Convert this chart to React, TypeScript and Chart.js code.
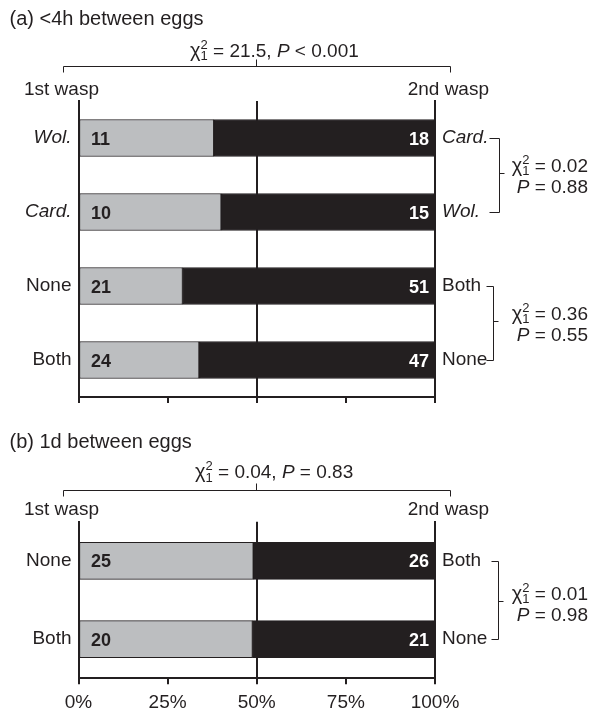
import React, { useEffect, useRef } from 'react';
import { Chart, registerables } from 'chart.js';

Chart.register(...registerables);

const FONT_FAMILY = '"Liberation Sans", Arial, Helvetica, sans-serif';
const INK = '#231f20';
const GREY = '#bcbec0';
const PAGE_W = 589;

// ---------------- data ----------------
const xTickValues = [0, 25, 50, 75, 100];
const waspLabels = ['1st wasp', '2nd wasp'];
const italicNames = ['Wol.', 'Card.'];

const panelATitle = '(a) <4h between eggs';
const panelAFirstLabels = ['Wol.', 'Card.', 'None', 'Both'];
const panelASecondLabels = ['Card.', 'Wol.', 'Both', 'None'];
const panelAFirstCounts = [11, 10, 21, 24];
const panelASecondCounts = [18, 15, 51, 47];
const panelAOverall = ['21.5', '<', '0.001'];
const panelAPairs = [[0, 1], [2, 3]];
const panelAPairChi = ['0.02', '0.36'];
const panelAPairP = ['0.88', '0.55'];

const panelBTitle = '(b) 1d between eggs';
const panelBFirstLabels = ['None', 'Both'];
const panelBSecondLabels = ['Both', 'None'];
const panelBFirstCounts = [25, 20];
const panelBSecondCounts = [26, 21];
const panelBOverall = ['0.04', '=', '0.83'];
const panelBPairs = [[0, 1]];
const panelBPairChi = ['0.01'];
const panelBPairP = ['0.98'];

// ---------------- layout ----------------
const geomA = {
  top: 0, height: 420, areaTop: 101, areaBottom: 397, areaLeft: 78.5, areaRight: 435,
  showTickLabels: false,
  titleY: 24.5, statX: 190, statY: 56.5,
  bracketY: 66.5, bracketX1: 63.5, bracketX2: 450.5, drop: 6, rise: 7,
  waspY: 94.5,
  pairX: [499.5, 493.5], pairHook: [10, 7], pairMidShift: -3,
};
const geomB = {
  top: 420, height: 293, areaTop: 101.7, areaBottom: 258.3, areaLeft: 78.5, areaRight: 435,
  showTickLabels: true,
  titleY: 28.3, statX: 195, statY: 58,
  bracketY: 70.5, bracketX1: 63.5, bracketX2: 450.5, drop: 6, rise: 7,
  waspY: 95,
  pairX: [498.5], pairHook: [7], pairMidShift: 0,
};

type Seg = { t: string; size: number; italic?: boolean; bold?: boolean; dy?: number; noAdvance?: boolean };

function fontStr(size: number, italic = false, bold = false) {
  return `${italic ? 'italic ' : ''}${bold ? 'bold ' : ''}${size}px ${FONT_FAMILY}`;
}

function drawRich(ctx: CanvasRenderingContext2D, segs: Seg[], x: number, y: number, align: 'left' | 'right') {
  const widths = segs.map((s) => {
    ctx.font = fontStr(s.size, s.italic, s.bold);
    return s.noAdvance ? 0 : ctx.measureText(s.t).width;
  });
  const total = widths.reduce((a, b) => a + b, 0);
  let cx = align === 'right' ? x - total : x;
  ctx.textAlign = 'left';
  segs.forEach((s, i) => {
    ctx.font = fontStr(s.size, s.italic, s.bold);
    ctx.fillText(s.t, cx, y + (s.dy || 0));
    cx += widths[i];
  });
}

function chiSegs(size: number): Seg[] {
  const small = Math.round(size * 0.66);
  return [
    { t: 'χ', size: size + 1 },
    { t: '2', size: small, dy: -size * 0.42, noAdvance: true },
    { t: '1', size: small, dy: size * 0.2 },
  ];
}

type Panel = {
  title: string;
  firstLabels: string[];
  secondLabels: string[];
  firstCounts: number[];
  secondCounts: number[];
  overall: string[];
  pairs: number[][];
  pairChi: string[];
  pairP: string[];
  geom: typeof geomA;
};

function makeChart(canvas: HTMLCanvasElement, p: Panel) {
  const g = p.geom;
  const firstPct = p.firstCounts.map((v, i) => (v / (v + p.secondCounts[i])) * 100);
  const secondPct = p.secondCounts.map((v, i) => (v / (v + p.firstCounts[i])) * 100);

  const labelFont = (labels: string[]) => (c: any) => ({
    family: FONT_FAMILY,
    size: 19,
    style: italicNames.includes(labels[c.index]) ? 'italic' : 'normal',
  });

  const barLabels = {
    id: 'barLabels',
    afterDatasetsDraw(chart: any) {
      const ctx: CanvasRenderingContext2D = chart.ctx;
      const m0 = chart.getDatasetMeta(0);
      const m1 = chart.getDatasetMeta(1);
      ctx.save();
      ctx.font = fontStr(18, false, true);
      ctx.textBaseline = 'alphabetic';
      m0.data.forEach((bar: any, i: number) => {
        ctx.fillStyle = INK;
        ctx.textAlign = 'left';
        ctx.fillText(String(p.firstCounts[i]), chart.chartArea.left + 12.5, bar.y + 6.5);
      });
      m1.data.forEach((bar: any, i: number) => {
        ctx.fillStyle = '#ffffff';
        ctx.textAlign = 'right';
        ctx.fillText(String(p.secondCounts[i]), bar.x - 6, bar.y + 6.5);
      });
      ctx.restore();
    },
  };

  const annotations = {
    id: 'annotations',
    afterDraw(chart: any) {
      const ctx: CanvasRenderingContext2D = chart.ctx;
      ctx.save();
      ctx.fillStyle = INK;
      ctx.strokeStyle = INK;
      ctx.lineWidth = 1;
      ctx.textBaseline = 'alphabetic';
      ctx.font = fontStr(20);
      ctx.textAlign = 'left';
      ctx.fillText(p.title, 9.5, g.titleY);

      const [chi, rel, pv] = p.overall;
      drawRich(ctx, [
        ...chiSegs(19),
        { t: ' = ' + chi + ', ', size: 19 },
        { t: 'P', size: 19, italic: true },
        { t: ' ' + rel + ' ' + pv, size: 19 },
      ], g.statX, g.statY, 'left');

      const cx = Math.round(chart.scales.x.getPixelForValue(50)) - 0.5;
      ctx.beginPath();
      ctx.moveTo(g.bracketX1, g.bracketY + g.drop);
      ctx.lineTo(g.bracketX1, g.bracketY);
      ctx.lineTo(g.bracketX2, g.bracketY);
      ctx.lineTo(g.bracketX2, g.bracketY + g.drop);
      ctx.moveTo(cx, g.bracketY);
      ctx.lineTo(cx, g.bracketY - g.rise);
      ctx.stroke();

      ctx.font = fontStr(19);
      ctx.textAlign = 'left';
      ctx.fillText(waspLabels[0], 24, g.waspY);
      ctx.textAlign = 'right';
      ctx.fillText(waspLabels[1], 489, g.waspY);

      const ys = chart.scales.y;
      p.pairs.forEach(([a, b], k) => {
        const y1 = Math.round(ys.getPixelForValue(a)) + 0.5;
        const y2 = Math.round(ys.getPixelForValue(b)) + 0.5;
        const bx = g.pairX[k];
        const hook = g.pairHook[k];
        const mid = Math.round((y1 + y2) / 2 + g.pairMidShift) + 0.5;
        ctx.beginPath();
        ctx.moveTo(bx - hook, y1);
        ctx.lineTo(bx, y1);
        ctx.lineTo(bx, y2);
        ctx.lineTo(bx - hook, y2);
        ctx.moveTo(bx, mid);
        ctx.lineTo(bx + 5, mid);
        ctx.stroke();
        drawRich(ctx, [...chiSegs(19), { t: ' = ' + p.pairChi[k], size: 19 }], 588, mid - 2, 'right');
        drawRich(ctx, [{ t: 'P', size: 19, italic: true }, { t: ' = ' + p.pairP[k], size: 19 }], 588, mid + 19, 'right');
      });
      ctx.restore();
    },
  };

  return new Chart(canvas, {
    type: 'bar',
    data: {
      labels: p.firstLabels,
      datasets: [
        {
          label: waspLabels[0],
          data: firstPct,
          backgroundColor: GREY,
          borderColor: INK,
          borderWidth: 1,
          borderSkipped: false,
          barThickness: 37,
        },
        {
          label: waspLabels[1],
          data: secondPct,
          backgroundColor: INK,
          borderColor: INK,
          borderWidth: 1,
          borderSkipped: false,
          barThickness: 37,
        },
      ],
    },
    options: {
      indexAxis: 'y',
      animation: false,
      responsive: false,
      maintainAspectRatio: false,
      layout: { padding: { top: g.areaTop, left: 0, right: 0, bottom: 0 } },
      plugins: { legend: { display: false }, tooltip: { enabled: false } },
      scales: {
        x: {
          type: 'linear',
          stacked: true,
          min: 0,
          max: 100,
          position: 'bottom',
          afterBuildTicks: (s: any) => {
            s.ticks = xTickValues.map((v) => ({ value: v }));
          },
          ticks: {
            display: g.showTickLabels,
            callback: (v: any) => v + '%',
            font: { family: FONT_FAMILY, size: 19 },
            color: INK,
            padding: 7,
            maxRotation: 0,
            autoSkip: false,
          },
          grid: {
            color: (c: any) => (c.tick && c.tick.value === 50 ? INK : 'rgba(0,0,0,0)'),
            lineWidth: 2,
            tickColor: INK,
            tickWidth: 2,
            tickLength: 6,
            drawTicks: true,
          },
          border: { display: true, color: INK, width: 2 },
          afterFit: (s: any) => {
            s.height = g.height - g.areaBottom;
          },
        },
        y: {
          type: 'category',
          stacked: true,
          position: 'left',
          offset: true,
          ticks: { font: labelFont(p.firstLabels) as any, color: INK, padding: 7 },
          grid: { display: false, drawTicks: false },
          border: { display: true, color: INK, width: 2 },
          afterFit: (s: any) => {
            s.width = g.areaLeft;
          },
        },
        y2: {
          type: 'category',
          position: 'right',
          labels: p.secondLabels,
          offset: true,
          ticks: { font: labelFont(p.secondLabels) as any, color: INK, padding: 7 },
          grid: { display: false, drawTicks: false },
          border: { display: true, color: INK, width: 2 },
          afterFit: (s: any) => {
            s.width = PAGE_W - g.areaRight;
          },
        },
      } as any,
    },
    plugins: [barLabels, annotations],
  } as any);
}

const panels: Panel[] = [
  {
    title: panelATitle,
    firstLabels: panelAFirstLabels,
    secondLabels: panelASecondLabels,
    firstCounts: panelAFirstCounts,
    secondCounts: panelASecondCounts,
    overall: panelAOverall,
    pairs: panelAPairs,
    pairChi: panelAPairChi,
    pairP: panelAPairP,
    geom: geomA,
  },
  {
    title: panelBTitle,
    firstLabels: panelBFirstLabels,
    secondLabels: panelBSecondLabels,
    firstCounts: panelBFirstCounts,
    secondCounts: panelBSecondCounts,
    overall: panelBOverall,
    pairs: panelBPairs,
    pairChi: panelBPairChi,
    pairP: panelBPairP,
    geom: geomB,
  },
];

function PanelCanvas({ panel }: { panel: Panel }) {
  const ref = useRef<HTMLCanvasElement | null>(null);
  useEffect(() => {
    if (!ref.current) return;
    const chart = makeChart(ref.current, panel);
    return () => chart.destroy();
  }, [panel]);
  return (
    <canvas
      ref={ref}
      width={PAGE_W}
      height={panel.geom.height}
      style={{ position: 'absolute', left: 0, top: panel.geom.top, display: 'block', width: PAGE_W, height: panel.geom.height }}
    />
  );
}

export default function App() {
  return (
    <div style={{ position: 'absolute', left: 0, top: 0, width: PAGE_W, height: 713, background: '#ffffff', overflow: 'hidden' }}>
      {panels.map((p, i) => (
        <PanelCanvas key={i} panel={p} />
      ))}
    </div>
  );
}
